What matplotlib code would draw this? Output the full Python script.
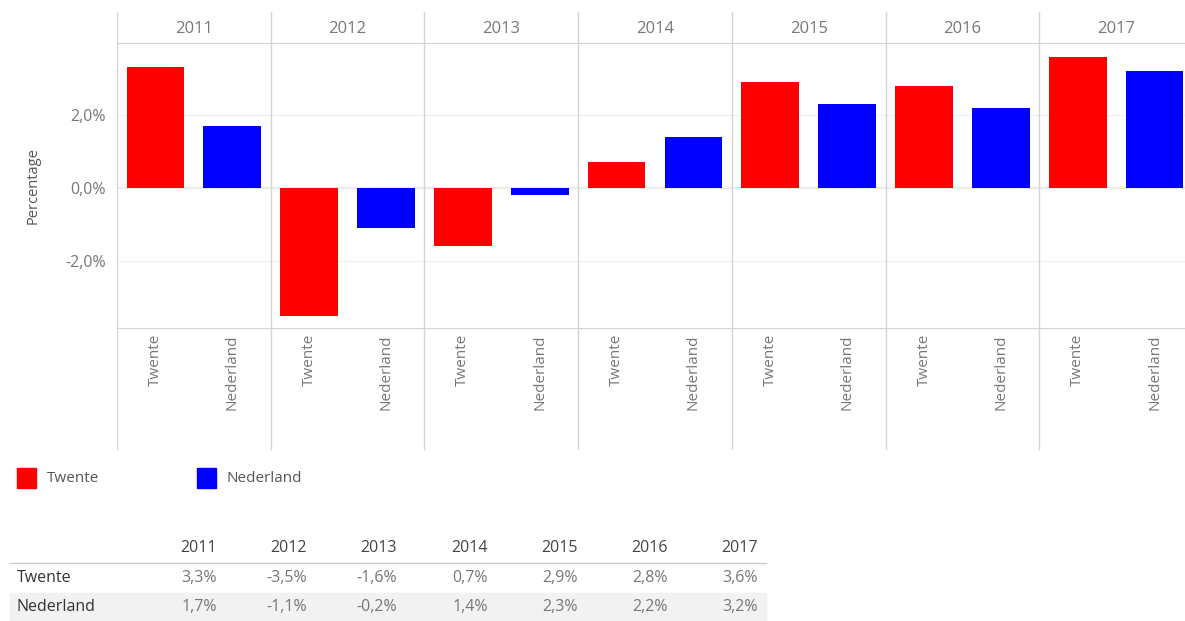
import numpy as np
import matplotlib.pyplot as plt
from matplotlib.ticker import FuncFormatter

plt.rcParams['font.family'] = ['Open Sans', 'DejaVu Sans']

years = ['2011', '2012', '2013', '2014', '2015', '2016', '2017']
regions = ['Twente', 'Nederland']
twente = [3.3, -3.5, -1.6, 0.7, 2.9, 2.8, 3.6]
nederland = [1.7, -1.1, -0.2, 1.4, 2.3, 2.2, 3.2]
colors = ['#ff0000', '#0000ff']

W, H = 1185, 621
fig = plt.figure(figsize=(W / 100, H / 100), dpi=100)

def box(x0, y0, x1, y1):
    # pixel box (top-left origin) -> figure fraction
    return [x0 / W, 1 - y1 / H, (x1 - x0) / W, (y1 - y0) / H]

grey = '#d4d4d4'
txt = '#777777'
n = len(years)
x_left, x_right = 117, 1193

ax = fig.add_axes(box(x_left, 43, x_right, 328))
head = fig.add_axes(box(x_left, 12, x_right, 43))
foot = fig.add_axes(box(x_left, 328, x_right, 450))

for a in (ax, head, foot):
    a.set_xlim(0, 2 * n)
    a.patch.set_alpha(0)
    for s in a.spines.values():
        s.set_visible(False)
    a.set_xticks([])
    a.set_yticks([])
    for k in range(n + 1):
        a.axvline(2 * k, color=grey, lw=1)

pos = np.arange(n) * 2
for j, vals in enumerate([twente, nederland]):
    ax.bar(pos + 0.5 + j, vals, width=0.75, color=colors[j], zorder=3)

ax.set_ylim(-3.84, 3.97)
ax.set_yticks([-2, 0, 2])
ax.yaxis.set_major_formatter(FuncFormatter(lambda v, p: f'{v:.1f}%'.replace('.', ',')))
ax.tick_params(axis='y', length=0, labelsize=11.5, labelcolor=txt, pad=8)
for v in (-2, 2):
    ax.axhline(v, color='#f0f0f0', lw=1, zorder=0)
ax.axhline(0, color='#e6e6e6', lw=1.2, zorder=1)
for side in ('top', 'bottom'):
    ax.spines[side].set_visible(True)
    ax.spines[side].set_color(grey)
ax.set_ylabel('Percentage', fontsize=10.5, color='#555555', labelpad=18)

head.set_ylim(0, 1)
for i, y in enumerate(years):
    head.text(2 * i + 1, 0.45, y, ha='center', va='center', fontsize=12, color=txt)

foot.set_ylim(0, 1)
for i in range(n):
    for j, r in enumerate(regions):
        foot.text(2 * i + 0.5 + j, 0.95, r, rotation=90, ha='center', va='top',
                  fontsize=11, color=txt)

# legend
for j, r in enumerate(regions):
    x0 = 17 + 180 * j
    fig.patches.append(plt.Rectangle((x0 / W, 1 - 488 / H), 19 / W, 20 / H,
                                     transform=fig.transFigure, color=colors[j]))
    fig.text((x0 + 30) / W, 1 - 479 / H, r, ha='left', va='center',
             fontsize=11, color='#555555')

# table
col_x = [217, 307, 397, 488, 578, 668, 758]
fig.patches.append(plt.Rectangle((10 / W, 0), 756 / W, (621 - 593) / H,
                                 transform=fig.transFigure, color='#f2f2f2', zorder=0))
fig.add_artist(plt.Line2D([10 / W, 766 / W], [1 - 563 / H] * 2, color='#cccccc', lw=1))
for i, y in enumerate(years):
    fig.text(col_x[i] / W, 1 - 548 / H, y, ha='right', va='center', fontsize=11.5, color='#444444')
for r, vals, yy in [(regions[0], twente, 578), (regions[1], nederland, 607)]:
    fig.text(17 / W, 1 - yy / H, r, ha='left', va='center', fontsize=11.5, color='#333333')
    for i, v in enumerate(vals):
        fig.text(col_x[i] / W, 1 - yy / H, f'{v:.1f}%'.replace('.', ','), ha='right',
                 va='center', fontsize=11.5, color='#777777')

fig.savefig('out.png', dpi=100)
